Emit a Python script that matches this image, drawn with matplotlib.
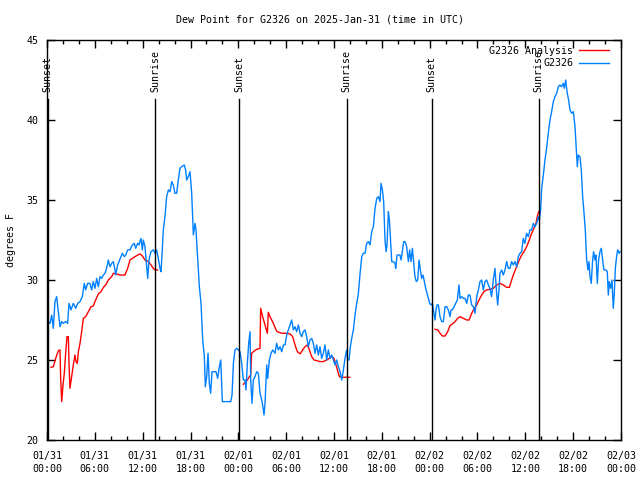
import numpy as np
import matplotlib
matplotlib.use("Agg")
import matplotlib.pyplot as plt

# ---------------- DATA ----------------
# hours since 2025-01-31 00:00 UTC, dew point in degrees F
obs_hours = [0.08, 0.38, 0.59, 0.79, 1.00, 1.21, 1.42, 1.63, 1.84, 2.05, 2.34, 2.59, 2.76, 3.01,
             3.30, 3.60, 3.85, 4.14, 4.43, 4.68, 4.85, 5.10, 5.39, 5.60, 5.81, 6.02, 6.23, 6.44,
             6.65, 6.86, 7.07, 7.27, 7.48, 7.69, 7.90, 8.11, 8.32, 8.53, 8.61, 8.86, 9.03, 9.28,
             9.45, 9.70, 9.87, 10.12, 10.41, 10.70, 10.95, 11.12, 11.37, 11.54, 11.79, 11.96,
             12.08, 12.29, 12.50, 12.63, 12.79, 13.04, 13.34, 13.55, 13.75, 13.96, 14.17, 14.30,
             14.46, 14.59, 14.80, 15.01, 15.22, 15.43, 15.64, 15.84, 16.05, 16.26, 16.47, 16.68,
             16.89, 17.22, 17.39, 17.52, 17.73, 17.94,
             18.15, 18.27, 18.36, 18.57, 18.69, 18.86, 19.11, 19.32, 19.53, 19.74, 19.86, 20.03,
             20.20, 20.36, 20.53, 20.70, 20.95, 21.20, 21.41, 21.62, 21.79, 21.91, 22.00, 22.54,
             23.04, 23.21, 23.38, 23.58, 23.79, 24.00, 24.21, 24.42, 24.63, 24.84, 24.96, 25.13,
             25.30, 25.47, 25.55, 25.72, 25.88, 26.09, 26.30, 26.51, 26.72, 26.93, 27.05, 27.22,
             27.35, 27.56, 27.68, 27.89, 28.10, 28.31, 28.60, 28.81, 29.02, 29.23, 29.44, 29.65,
             29.86, 30.07, 30.27, 30.48, 30.69, 30.90, 31.11, 31.32, 31.53, 31.74, 31.95, 32.15,
             32.36, 32.57, 32.78, 32.99, 33.20, 33.41, 33.62, 33.83, 34.04, 34.24, 34.45, 34.66,
             34.87, 35.08, 35.29, 35.50, 35.71, 35.92,
             36.13, 36.34, 36.55, 36.76, 36.97, 37.18, 37.38, 37.59, 37.72, 37.89, 38.05, 38.22,
             38.43, 38.64, 38.85, 39.06, 39.27, 39.48, 39.68, 39.89, 40.10, 40.31, 40.52, 40.73,
             40.94, 41.15, 41.36, 41.56, 41.77, 41.90, 42.07, 42.23, 42.40, 42.53, 42.65, 42.82,
             42.95, 43.11, 43.24, 43.45, 43.66, 43.74, 43.91, 44.07, 44.28, 44.41, 44.57, 44.74,
             44.91, 45.12, 45.33, 45.49, 45.66, 45.83, 46.00, 46.16, 46.33, 46.50, 46.67, 46.83,
             47.00, 47.17, 47.33, 47.50, 47.67, 47.84, 48.00, 48.17, 48.34, 48.50, 48.67, 48.80,
             48.92, 49.09, 49.30, 49.51, 49.72, 49.93, 50.14, 50.34, 50.55, 50.68, 50.85, 51.06,
             51.26, 51.47, 51.68, 51.81, 52.02, 52.23, 52.44, 52.64, 52.85, 53.06, 53.27, 53.48,
             53.69, 53.90, 54.11,
             54.31, 54.52, 54.73, 54.94, 55.15, 55.36, 55.56, 55.77, 55.98, 56.19, 56.40, 56.53,
             56.69, 56.82, 57.03, 57.24, 57.45, 57.66, 57.86, 58.07, 58.28, 58.49, 58.70, 58.91,
             59.12, 59.33, 59.54, 59.74, 59.95, 60.16, 60.37, 60.58, 60.79, 61.00, 61.21, 61.42,
             61.63, 61.75, 61.92, 62.05, 62.26, 62.46, 62.67, 62.88, 63.09, 63.30, 63.51, 63.72,
             63.93, 64.14, 64.34, 64.55, 64.76, 64.89, 65.06, 65.26, 65.43, 65.60, 65.81, 66.02,
             66.23, 66.35, 66.52, 66.64, 66.85, 67.02, 67.19, 67.35, 67.52, 67.69, 67.86, 67.98,
             68.11, 68.27, 68.44, 68.57, 68.73, 68.86, 69.03, 69.19, 69.36, 69.53, 69.70, 69.86,
             70.11, 70.28, 70.41, 70.53, 70.70, 70.87, 71.03, 71.16, 71.29, 71.45, 71.58, 71.79,
             71.87]
obs_vals = [27.40, 27.29, 27.81, 26.98, 28.65, 28.96, 28.02, 27.08, 27.40, 27.29, 27.40, 27.29,
            28.54, 28.13, 28.54, 28.23, 28.54, 28.65, 28.96, 29.79, 29.38, 29.79, 29.79, 29.38,
            29.90, 29.48, 30.10, 29.58, 30.21, 30.10, 30.31, 30.42, 30.73, 31.25, 30.83, 31.04,
            31.15, 30.63, 30.31, 30.94, 31.15, 31.46, 31.67, 31.46, 31.56, 31.88, 31.88, 32.19,
            32.29, 31.98, 32.29, 32.19, 32.60, 31.88, 32.50, 32.08, 30.83, 30.10, 31.25, 31.77,
            31.88, 31.67, 31.88, 31.35, 30.73, 30.52, 31.88, 33.13, 33.96, 35.21, 35.63, 35.52,
            36.15, 35.94, 35.42, 35.42, 36.25, 36.98, 37.08, 37.19, 36.88, 36.25, 36.46, 36.77,
            35.42, 33.96, 32.81, 33.54, 33.13, 31.67, 29.58, 28.54, 26.25, 25.21, 23.33, 23.96,
            25.42, 23.54, 22.92, 24.27, 24.27, 24.27, 23.85, 24.58, 25.00, 23.54, 22.40, 22.40,
            22.40, 22.81, 24.79, 25.63, 25.73, 25.63, 25.52, 24.79, 23.75, 23.75, 23.13, 24.79,
            26.04, 26.77, 23.75, 22.29, 23.75, 23.96, 24.27, 24.17, 22.92, 22.50, 22.19, 21.56,
            22.29, 24.69, 23.85, 25.00, 25.42, 25.63, 25.42, 26.04, 25.63, 25.83, 25.52, 25.94,
            25.94, 26.56, 26.88, 27.19, 27.50, 26.88, 27.08, 26.77, 27.19, 26.67, 26.46, 26.77,
            26.88, 26.46, 25.83, 26.25, 26.35, 26.04, 25.42, 25.94, 25.31, 25.83, 25.10, 25.42,
            25.94, 25.00, 25.63, 25.10, 25.31, 25.00,
            24.69, 25.00, 24.58, 24.27, 23.75, 24.38, 25.10, 25.63, 25.00, 25.00, 25.83, 26.35,
            26.88, 27.81, 28.54, 29.17, 30.42, 31.46, 31.67, 31.67, 32.29, 32.40, 32.19, 33.02,
            33.33, 34.48, 35.10, 35.21, 34.90, 36.04, 35.63, 34.90, 32.50, 31.77, 32.19, 34.27,
            33.75, 32.29, 31.15, 31.15, 31.04, 30.73, 31.56, 31.56, 31.56, 31.25, 31.77, 32.40,
            32.40, 32.08, 31.15, 31.88, 31.15, 31.98, 31.04, 30.21, 29.90, 30.00, 31.25, 30.63,
            30.10, 30.31, 29.90, 29.48, 29.17, 28.85, 28.54, 28.44, 28.54, 28.02, 27.50, 28.13,
            28.44, 28.44, 27.71, 27.40, 27.40, 28.33, 28.33, 28.13, 27.71, 28.13, 28.13, 28.33,
            28.54, 28.75, 29.69, 28.85, 28.96, 28.85, 28.85, 28.54, 29.06, 29.06, 28.44, 28.33,
            27.92, 28.96, 29.38,
            29.90, 30.00, 29.38, 29.90, 30.00, 29.69, 29.48, 28.96, 30.00, 30.73, 29.17, 28.44,
            29.38, 30.42, 30.63, 30.31, 30.63, 31.15, 30.73, 30.73, 31.15, 30.94, 31.15, 30.83,
            31.46, 31.67, 31.77, 32.60, 32.29, 32.92, 32.71, 33.13, 33.13, 33.54, 33.33, 33.54,
            33.96, 33.75, 34.38, 35.73, 36.56, 37.50, 38.23, 39.17, 40.00, 40.52, 41.15, 41.46,
            41.67, 42.08, 42.19, 42.08, 42.29, 41.98, 42.50, 41.67, 41.25, 40.63, 40.42, 40.52,
            39.58, 38.54, 37.08, 37.81, 37.71, 36.88, 35.21, 34.27, 33.13, 31.25, 30.63, 31.15,
            30.21, 29.79, 31.25, 31.77, 31.25, 31.56, 29.79, 31.25, 31.77, 31.98, 31.25, 30.63,
            30.63, 30.52, 29.06, 29.90, 29.48, 30.00, 28.23, 29.17, 30.73, 31.46, 31.88, 31.67,
            31.77]

# analysis comes in three pieces
ana1_hours = [0.50, 0.79, 1.09, 1.42, 1.63, 1.71, 1.84, 2.01, 2.17, 2.34, 2.51, 2.68, 2.76, 2.88,
              3.09, 3.30, 3.51, 3.64, 3.80, 3.93, 4.14, 4.35, 4.56, 4.85, 5.18, 5.52, 5.81, 6.10,
              6.44, 6.77, 7.07, 7.36, 7.69, 8.11, 8.32, 8.74, 9.15, 9.78, 10.12, 10.41, 10.70,
              11.04, 11.37, 11.66, 11.96, 12.29, 12.71, 13.04, 13.34, 13.55, 13.88]
ana1_vals = [24.54, 24.58, 25.10, 25.58, 25.63, 23.96, 22.40, 23.44, 24.17, 25.42, 26.46, 26.46,
             24.79, 23.23, 23.96, 24.69, 25.31, 24.90, 24.79, 25.52, 26.04, 26.77, 27.60, 27.71,
             28.02, 28.33, 28.38, 28.75, 29.13, 29.27, 29.54, 29.69, 30.00, 30.21, 30.42, 30.38,
             30.31, 30.31, 30.73, 31.25, 31.35, 31.46, 31.56, 31.63, 31.50, 31.25, 31.15, 30.94,
             30.73, 30.63, 30.63]
ana2_hours = [24.63, 24.96, 25.13, 25.38, 25.55, 25.67, 25.88, 26.30, 26.72, 26.80, 27.05, 27.35,
              27.64, 27.76, 27.97, 28.39, 28.73, 28.89, 29.44, 30.07, 30.48, 30.82, 31.11, 31.40,
              31.74, 32.07, 32.36, 32.66, 32.91, 33.20, 33.49, 33.83, 34.24, 34.66, 35.08, 35.41,
              35.71, 36.00, 36.25, 36.54, 36.67, 36.97, 37.38, 37.97]
ana2_vals = [23.48, 23.65, 23.75, 23.96, 24.06, 25.42, 25.52, 25.67, 25.73, 28.23, 27.71, 27.19,
             26.67, 27.98, 27.71, 27.29, 26.88, 26.77, 26.67, 26.67, 26.63, 26.46, 25.94, 25.52,
             25.38, 25.63, 25.83, 25.94, 25.63, 25.21, 25.00, 24.96, 24.90, 24.90, 25.00, 25.10,
             25.21, 25.10, 24.69, 24.17, 23.96, 23.92, 23.92, 23.92]
ana3_hours = [48.67, 49.01, 49.30, 49.59, 49.93, 50.26, 50.55, 50.85, 51.18, 51.51, 51.81, 52.23,
              52.64, 52.94, 53.27, 53.61, 53.90, 54.19, 54.52, 54.81, 55.15, 55.56, 55.98, 56.40,
              56.82, 57.24, 57.66, 57.99, 58.28, 58.57, 58.91, 59.24, 59.54, 59.83, 60.16, 60.50,
              60.79, 61.08, 61.33, 61.54, 61.67]
ana3_vals = [26.92, 26.88, 26.67, 26.50, 26.50, 26.77, 27.15, 27.25, 27.40, 27.60, 27.71, 27.60,
             27.50, 27.50, 27.92, 28.23, 28.44, 28.75, 29.06, 29.27, 29.38, 29.42, 29.48, 29.69,
             29.79, 29.69, 29.54, 29.54, 30.00, 30.42, 30.83, 31.25, 31.56, 31.77, 32.08, 32.50,
             32.92, 33.23, 33.54, 34.06, 34.27]

sun_hours = [0.08, 13.59, 24.13, 37.59, 48.25, 61.67]
sun_labels = ["Sunset", "Sunrise", "Sunset", "Sunrise", "Sunset", "Sunrise"]

tick_hours = list(range(0, 73, 6))
tick_labels = ["01/31\n00:00", "01/31\n06:00", "01/31\n12:00", "01/31\n18:00",
               "02/01\n00:00", "02/01\n06:00", "02/01\n12:00", "02/01\n18:00",
               "02/02\n00:00", "02/02\n06:00", "02/02\n12:00", "02/02\n18:00",
               "02/03\n00:00"]

# ---------------- PLOT ----------------
plt.rcParams['font.family'] = ['DejaVu Sans Mono']
plt.rcParams['font.size'] = 7.2

fig = plt.figure(figsize=(6.4, 4.8), dpi=100)
ax = fig.add_axes([47 / 640, 40 / 480, 574 / 640, 400 / 480])

nan = [np.nan]
ana_hours = ana1_hours + nan + ana2_hours + nan + ana3_hours
ana_vals = ana1_vals + nan + ana2_vals + nan + ana3_vals

ax.plot(ana_hours, ana_vals, color="#ff0000", linewidth=1.0, label="G2326 Analysis")
ax.plot(obs_hours, obs_vals, color="#0080ff", linewidth=1.0, label="G2326")

# sunrise / sunset markers
for h, lab in zip(sun_hours, sun_labels):
    ax.plot([h, h], [20, 41.3], color="black", linewidth=1.0)
    ax.text(h, 41.75, lab, rotation=90, ha="center", va="bottom")

ax.set_xlim(0, 72)
ax.set_ylim(20, 45)
ax.set_xticks(tick_hours)
ax.set_xticklabels(tick_labels, linespacing=1.4)
ax.set_xticks(np.arange(0, 73, 2), minor=True)
ax.set_yticks([20, 25, 30, 35, 40, 45])
ax.tick_params(which="both", direction="in", top=True, right=True, width=1.0)
ax.tick_params(which="major", length=6)
ax.tick_params(which="minor", length=3)
ax.tick_params(axis="x", pad=8)
ax.tick_params(axis="y", pad=6)
for s in ax.spines.values():
    s.set_linewidth(1.0)

ax.set_ylabel("degrees F", labelpad=8)
fig.text(0.5, 1 - 20 / 480, "Dew Point for G2326 on 2025-Jan-31 (time in UTC)",
         ha="center", va="center")

ax.legend(loc="upper right", bbox_to_anchor=(1 - 6 / 574, 1), frameon=False,
          markerfirst=False, handlelength=3.0, handletextpad=0.6, labelspacing=0.25,
          borderaxespad=0.2)

fig.savefig("out.png", dpi=100)
